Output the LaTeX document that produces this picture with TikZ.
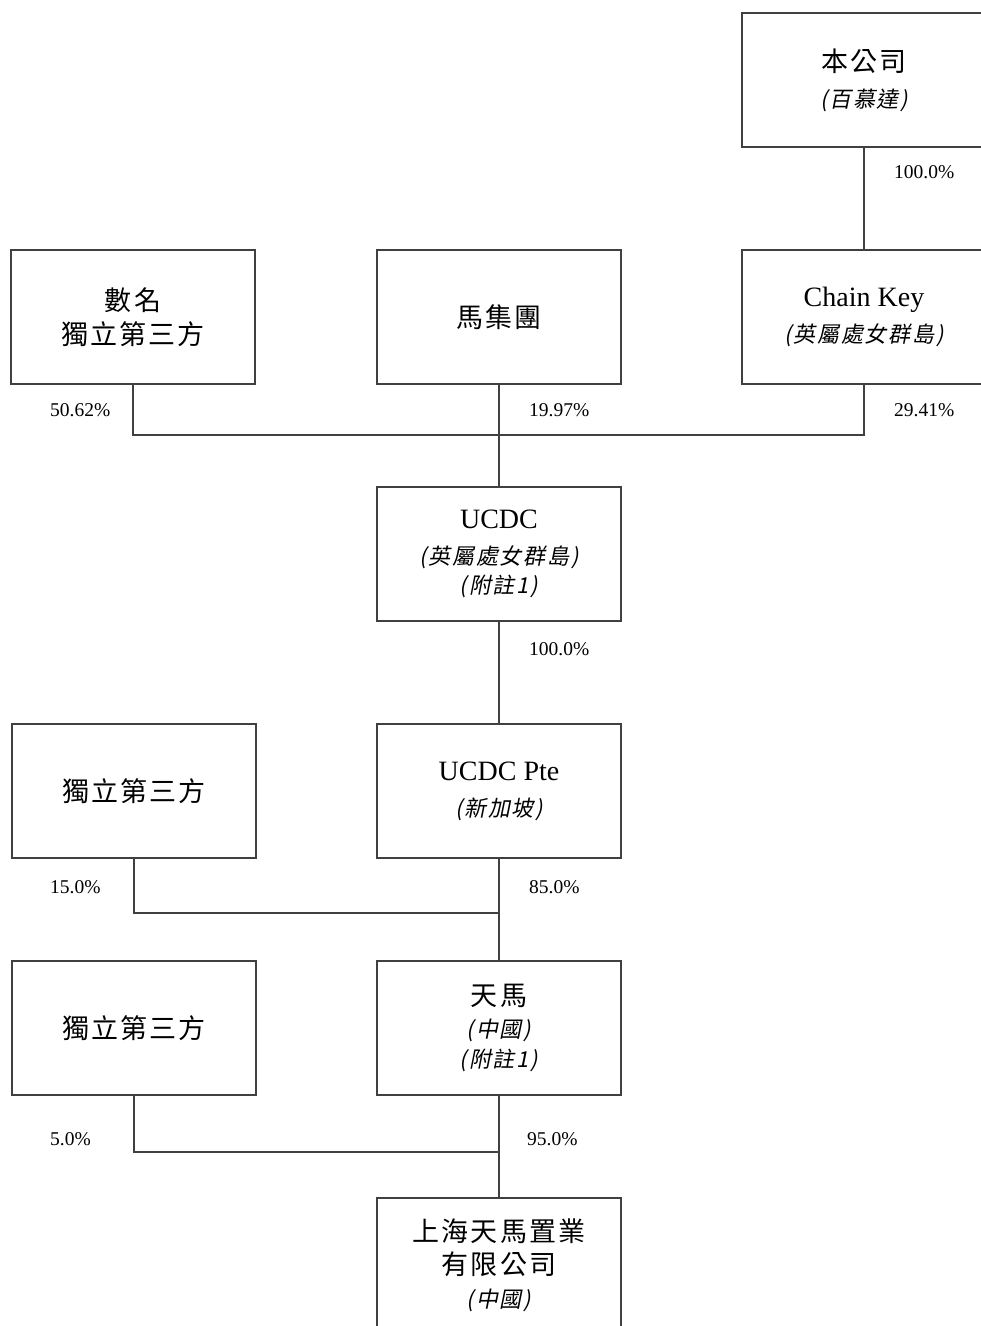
\documentclass[tikz,border=0pt]{standalone}
\usepackage{fontspec}
\setmainfont{Liberation Serif}
\newfontfamily\cjk[LetterSpace=8]{Noto Sans CJK TC}
\newfontfamily\cjkslant[FakeSlant=0.2,LetterSpace=8]{Noto Sans CJK TC}
\newcommand\zh[1]{{\cjk\fontsize{27}{36}\selectfont #1}}
\newcommand\loc[1]{{\cjkslant\fontsize{22}{36}\selectfont (#1)}}
\tikzset{node distance=237pt, auto}
\tikzset{entity/.style={draw=black!75, line width=1.2pt, minimum width=244pt,
    minimum height=134pt, align=center, inner sep=0pt,
    font=\fontsize{28}{36}\selectfont},
  pct/.style={anchor=west, inner sep=0pt, font=\fontsize{19.5}{22}\selectfont},
  link/.style={draw=black!75, line width=1.2pt}}

\begin{document}
\begin{tikzpicture}
\useasboundingbox (-133pt,317pt) rectangle (848pt,-1009pt);
\clip (-133pt,317pt) rectangle (848pt,-1009pt);
% shareholders of UCDC
\node[entity] (holder) {\zh{數名}\\[-2pt]\zh{獨立第三方}};
\node[entity] (magroup) [right of=holder, node distance=366pt] {\zh{馬集團}};
\node[entity] (chainkey) [right of=magroup, node distance=365pt] {Chain Key\\\loc{英屬處女群島}};
\node[entity] (company) [above of=chainkey] {\zh{本公司}\\\loc{百慕達}};
% group chain
\node[entity] (ucdc) [below of=magroup] {UCDC\\\loc{英屬處女群島}\\[-7pt]\loc{附註1}};
\node[entity] (ucdcpte) [below of=ucdc] {UCDC Pte\\\loc{新加坡}};
\node[entity] (third1) [left of=ucdcpte, node distance=365pt] {\zh{獨立第三方}};
\node[entity] (tianma) [below of=ucdcpte] {\zh{天馬}\\[-4pt]\loc{中國}\\[-6pt]\loc{附註1}};
\node[entity] (third2) [left of=tianma, node distance=365pt] {\zh{獨立第三方}};
\node[entity] (shanghai) [below of=tianma] {\zh{上海天馬置業}\\[-3pt]\zh{有限公司}\\[-3pt]\loc{中國}};
% junctions
\node[coordinate] (j1) [below of=magroup, node distance=118pt] {};
\node[coordinate] (j2) [below of=ucdcpte, node distance=122pt] {};
\node[coordinate] (j3) [below of=tianma, node distance=124pt] {};
\draw[link] (company) -- (chainkey);
\draw[link] (holder) |- (j1);
\draw[link] (chainkey) |- (j1);
\draw[link] (magroup) -- (ucdc);
\draw[link] (ucdc) -- (ucdcpte);
\draw[link] (ucdcpte) -- (tianma);
\draw[link] (third1) |- (j2);
\draw[link] (tianma) -- (shanghai);
\draw[link] (third2) |- (j3);
% percentages
\node (p100a) [below of=company, node distance=92pt, xshift=30pt, pct] {100.0\%};
\node (p5062) [below of=holder, node distance=93pt, xshift=-83pt, pct] {50.62\%};
\node (p1997) [below of=magroup, node distance=93pt, xshift=30pt, pct] {19.97\%};
\node (p2941) [below of=chainkey, node distance=93pt, xshift=30pt, pct] {29.41\%};
\node (p100b) [below of=ucdc, node distance=95pt, xshift=30pt, pct] {100.0\%};
\node (p15) [below of=third1, node distance=96pt, xshift=-84pt, pct] {15.0\%};
\node (p85) [below of=ucdcpte, node distance=96pt, xshift=30pt, pct] {85.0\%};
\node (p5) [below of=third2, node distance=111pt, xshift=-84pt, pct] {5.0\%};
\node (p95) [below of=tianma, node distance=111pt, xshift=28pt, pct] {95.0\%};
\end{tikzpicture}
\end{document}
